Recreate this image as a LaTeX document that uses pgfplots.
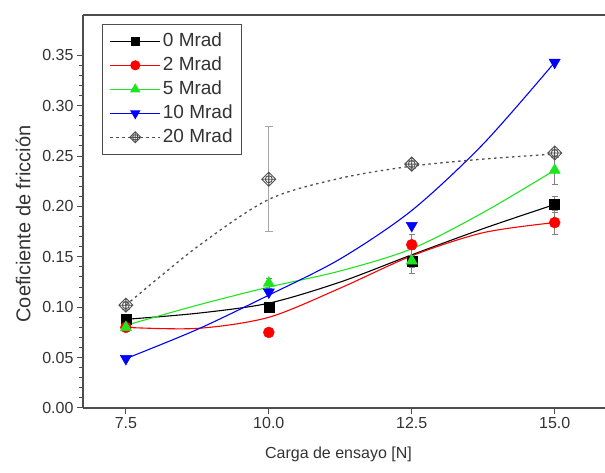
\documentclass[border=0pt]{standalone}
\usepackage{pgfplots}
\pgfplotsset{compat=1.18}
\usepackage{fontspec}
\setmainfont{Liberation Sans}

\definecolor{axgray}{HTML}{4D4D4D}
\definecolor{txtgray}{HTML}{333333}
\definecolor{mgreen}{HTML}{1EE61E}
\definecolor{dgray}{HTML}{505050}

% diamond with circle and cross, as in the 20 Mrad series
\pgfdeclareplotmark{xdiam}{%
  \pgfpathmoveto{\pgfqpoint{\pgfplotmarksize}{0pt}}%
  \pgfpathlineto{\pgfqpoint{0pt}{\pgfplotmarksize}}%
  \pgfpathlineto{\pgfqpoint{-\pgfplotmarksize}{0pt}}%
  \pgfpathlineto{\pgfqpoint{0pt}{-\pgfplotmarksize}}%
  \pgfpathclose
  \pgfpathcircle{\pgfpointorigin}{0.5\pgfplotmarksize}%
  \pgfpathmoveto{\pgfqpoint{-\pgfplotmarksize}{0pt}}%
  \pgfpathlineto{\pgfqpoint{\pgfplotmarksize}{0pt}}%
  \pgfpathmoveto{\pgfqpoint{0pt}{-\pgfplotmarksize}}%
  \pgfpathlineto{\pgfqpoint{0pt}{\pgfplotmarksize}}%
  \pgfusepathqstroke
}

\begin{document}
\begin{tikzpicture}
\useasboundingbox (0,0) rectangle (605pt,473pt);
\begin{axis}[
    at={(83pt,65pt)}, anchor=south west,
    scale only axis, width=530pt, height=393pt,
    xmin=6.75, xmax=16.02, ymin=0, ymax=0.39,
    axis lines=left,
    axis line style={axgray, line width=1.3pt, -},
    after end axis/.code={\draw[axgray, line width=1.3pt] (rel axis cs:0,1) -- (rel axis cs:1,1);},
    xtick={7.5,10,12.5,15},
    ytick={0,0.05,0.1,0.15,0.2,0.25,0.3,0.35},
    minor y tick num=4,
    tick align=outside,
    major tick length=6pt, minor tick length=4pt,
    every tick/.append style={axgray, line width=1pt},
    x tick label style={/pgf/number format/.cd, fixed, fixed zerofill, precision=1},
    y tick label style={/pgf/number format/.cd, fixed, fixed zerofill, precision=2},
    /pgf/number format/assume math mode=true,
    tick label style={font=\fontsize{16}{16}\selectfont, text=txtgray},
    xlabel={Carga de ensayo [N]},
    ylabel={Coeficiente de fricción},
    xlabel style={font=\fontsize{16}{16}\selectfont, text=txtgray,
        at={(axis description cs:0.482,-0.117)}, anchor=center},
    ylabel style={font=\fontsize{20}{20}\selectfont, text=txtgray,
        at={(axis description cs:-0.113,0.468)}, anchor=center},
    legend style={at={(rel axis cs:0.036,0.977)}, anchor=north west,
        draw=axgray, line width=1.1pt, text=txtgray,
        font=\fontsize{19}{19}\selectfont, inner xsep=7pt, inner ysep=6pt,
        nodes={inner sep=2pt, text height=13.5pt, text depth=4pt}, row sep=2.5pt},
    legend cell align=left,
    legend image code/.code={\draw[mark repeat=2,mark phase=2] plot coordinates {(0pt,0pt) (25pt,0pt) (50pt,0pt)};},
]

% fitted curves
\addplot[black, line width=1.1pt, smooth, forget plot] coordinates {
    (7.5,0.088) (8.75,0.094) (10,0.104) (11.25,0.125) (12.5,0.152) (13.75,0.178) (15,0.202)};
\addplot[red, line width=1.1pt, smooth, forget plot] coordinates {
    (7.5,0.080) (8.75,0.079) (10,0.090) (11.25,0.119) (12.5,0.151) (13.75,0.174) (15,0.184)};
\addplot[mgreen, line width=1.1pt, smooth, forget plot] coordinates {
    (7.5,0.082) (8.75,0.102) (10,0.120) (11.25,0.136) (12.5,0.158) (13.75,0.194) (15,0.236)};
\addplot[blue, line width=1.1pt, smooth, forget plot] coordinates {
    (7.5,0.049) (8.75,0.078) (10,0.112) (11.25,0.148) (12.5,0.196) (13.75,0.262) (15,0.343)};
\addplot[dgray, line width=1.3pt, dash pattern=on 2.5pt off 3.5pt, smooth, forget plot] coordinates {
    (7.5,0.102) (8.75,0.160) (10,0.207) (11.25,0.228) (12.5,0.240) (13.75,0.247) (15,0.252)};

% measured points
\addplot[only marks, mark=square*, mark size=5pt, black, forget plot,
    error bars/.cd, y dir=both, y explicit,
    error bar style={gray, line width=0.6pt}, error mark options={rotate=90, mark size=3pt, gray}]
    coordinates {(7.5,0.088) +- (0,0.004) (10,0.100) +- (0,0.004) (12.5,0.146) +- (0,0.006) (15,0.202) +- (0,0.008)};
\addplot[only marks, mark=*, mark size=5.5pt, red, forget plot,
    error bars/.cd, y dir=both, y explicit,
    error bar style={gray, line width=0.6pt}, error mark options={rotate=90, mark size=3pt, gray}]
    coordinates {(7.5,0.080) +- (0,0.004) (10,0.075) +- (0,0.004) (12.5,0.162) +- (0,0.010) (15,0.184) +- (0,0.012)};
\addplot[only marks, mark=triangle*, mark size=6.5pt, mgreen, forget plot,
    error bars/.cd, y dir=both, y explicit,
    error bar style={gray, line width=0.6pt}, error mark options={rotate=90, mark size=3pt, gray}]
    coordinates {(7.5,0.080) +- (0,0.004) (10,0.124) +- (0,0.005) (12.5,0.146) +- (0,0.012) (15,0.236) +- (0,0.014)};
\addplot[only marks, mark=triangle*, mark options={rotate=180}, mark size=6.5pt, blue, forget plot]
    coordinates {(7.5,0.049) (10,0.115) (12.5,0.181) (15,0.343)};
\addplot[only marks, mark=xdiam, mark size=7pt, dgray, line width=0.9pt, forget plot,
    error bars/.cd, y dir=both, y explicit,
    error bar style={gray!70, line width=0.8pt}, error mark options={rotate=90, mark size=4pt, gray!70, line width=0.8pt}]
    coordinates {(7.5,0.102) +- (0,0.004) (10,0.227) +- (0,0.052) (12.5,0.242) +- (0,0.004) (15,0.253) +- (0,0.004)};

% legend
\addlegendimage{black, line width=1.1pt, mark=square*, mark size=4pt}
\addlegendentry{0 Mrad}
\addlegendimage{red, line width=1.1pt, mark=*, mark size=4.5pt}
\addlegendentry{2 Mrad}
\addlegendimage{mgreen, line width=1.1pt, mark=triangle*, mark size=5pt}
\addlegendentry{5 Mrad}
\addlegendimage{blue, line width=1.1pt, mark=triangle*, mark size=5pt, mark options={rotate=180}}
\addlegendentry{10 Mrad}
\addlegendimage{dgray, line width=1.3pt, dash pattern=on 2.5pt off 3.5pt, mark=xdiam, mark size=5.5pt, mark options={solid, line width=0.9pt}}
\addlegendentry{20 Mrad}
\end{axis}
\end{tikzpicture}
\end{document}
